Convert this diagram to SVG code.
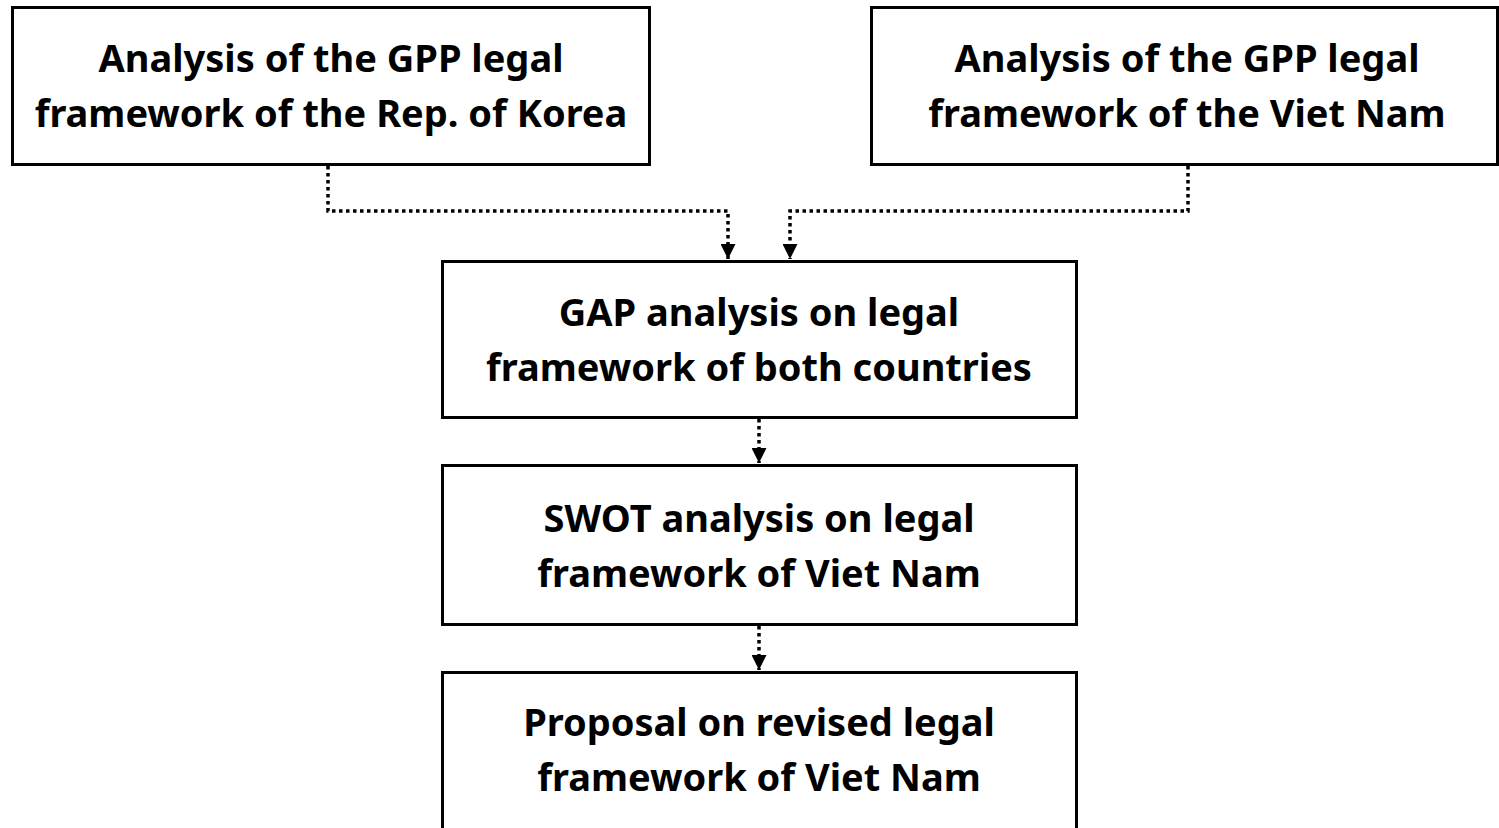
<svg xmlns="http://www.w3.org/2000/svg" width="1499" height="828" viewBox="0 0 1499 828">
  <style>
    .box { fill: #ffffff; stroke: #000000; stroke-width: 3; }
    .label { font-family: "Noto Sans", "Open Sans", "DejaVu Sans", sans-serif; font-weight: bold; font-size: 38px; fill: #000000; text-anchor: middle; }
    .link { fill: none; stroke: #000000; stroke-width: 3.5; stroke-dasharray: 3.5 3.5; }
  </style>
  <defs>
    <marker id="arrow" viewBox="0 0 10 10" refX="10" refY="5" markerWidth="15" markerHeight="15" markerUnits="userSpaceOnUse" orient="auto">
      <path d="M0,0 L10,5 L0,10 Z" fill="#000000"/>
    </marker>
  </defs>
  <rect width="1499" height="828" fill="#ffffff"/>

  <g id="korea">
    <rect class="box" x="12.5" y="7.5" width="637" height="157"/>
    <text class="label" x="331" y="72">Analysis of the GPP legal</text>
    <text class="label" x="331" y="127">framework of the Rep. of Korea</text>
  </g>

  <g id="vietnam">
    <rect class="box" x="871.5" y="7.5" width="626" height="157"/>
    <text class="label" x="1187" y="72">Analysis of the GPP legal</text>
    <text class="label" x="1187" y="127">framework of the Viet Nam</text>
  </g>

  <g id="gap">
    <rect class="box" x="442.5" y="261.5" width="634" height="156"/>
    <text class="label" x="759" y="326">GAP analysis on legal</text>
    <text class="label" x="759" y="381">framework of both countries</text>
  </g>

  <g id="swot">
    <rect class="box" x="442.5" y="465.5" width="634" height="159"/>
    <text class="label" x="759" y="532">SWOT analysis on legal</text>
    <text class="label" x="759" y="587">framework of Viet Nam</text>
  </g>

  <g id="proposal">
    <rect class="box" x="442.5" y="672.5" width="634" height="170"/>
    <text class="label" x="759" y="736">Proposal on revised legal</text>
    <text class="label" x="759" y="791">framework of Viet Nam</text>
  </g>

  <g id="connectors">
    <path class="link" d="M328,166 V211 H728 V259" marker-end="url(#arrow)"/>
    <path class="link" d="M1188,166 V211 H790 V259" marker-end="url(#arrow)"/>
    <path class="link" d="M759,419 V463" marker-end="url(#arrow)"/>
    <path class="link" d="M759,626 V670" marker-end="url(#arrow)"/>
  </g>
</svg>
